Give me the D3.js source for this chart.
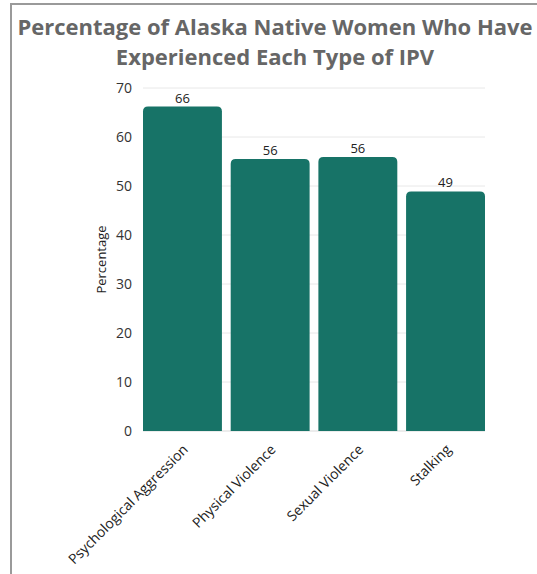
<!DOCTYPE html>
<html>
<head>
<meta charset="utf-8">
<script src="https://cdn.jsdelivr.net/npm/d3@7"></script>
<style>
  html, body { margin: 0; padding: 0; background: #fff; }
  svg { display: block; }
</style>
</head>
<body>
<svg id="chart" width="537" height="574"></svg>
<script>
// IPV types and the share of Alaska Native women who experienced each (%)
const categories = ["Psychological Aggression", "Physical Violence", "Sexual Violence", "Stalking"];
const values = [66.2, 55.5, 55.9, 48.9];
const yTicks = [0, 10, 20, 30, 40, 50, 60, 70];
const titleLines = ["Percentage of Alaska Native Women Who Have", "Experienced Each Type of IPV"];
const yLabel = "Percentage";

const svg = d3.select("#chart");
const W = 537, H = 574;
const margin = { left: 143, right: 52, top: 88, bottom: 143 };

// frame lines along the top and left edges
svg.append("path")
  .attr("d", `M11,${H} L11,4 L${W},4`)
  .attr("fill", "none")
  .attr("stroke", "#9a9a9a")
  .attr("stroke-width", 2);

// title
svg.append("g").selectAll("text")
  .data(titleLines)
  .join("text")
  .attr("x", 275)
  .attr("y", (d, i) => 35 + i * 30)
  .attr("text-anchor", "middle")
  .attr("font-family", "'Open Sans', sans-serif")
  .attr("font-weight", 700)
  .attr("font-size", 22)
  .attr("fill", "#666")
  .text(d => d);

const x = d3.scaleBand()
  .domain(categories)
  .range([margin.left, W - margin.right])
  .paddingInner(0.1)
  .paddingOuter(0);

const y = d3.scaleLinear()
  .domain([0, 70])
  .range([H - margin.bottom, margin.top]);

// gridlines
svg.append("g").selectAll("line")
  .data(yTicks)
  .join("line")
  .attr("x1", margin.left)
  .attr("x2", W - margin.right)
  .attr("y1", d => y(d))
  .attr("y2", d => y(d))
  .attr("stroke", d => d === 0 ? "#d9d9d9" : "#e8e8e8")
  .attr("stroke-width", 1);

// y axis tick labels
const yAxis = d3.axisLeft(y).tickValues(yTicks).tickSize(0).tickPadding(11);
const gy = svg.append("g")
  .attr("transform", `translate(${margin.left},0)`)
  .call(yAxis);
gy.select(".domain").remove();
gy.selectAll("text")
  .attr("font-family", "'Open Sans', sans-serif")
  .attr("font-size", 14)
  .attr("fill", "#333");

// y axis title
svg.append("text")
  .attr("transform", `translate(106,${(y(0) + y(70)) / 2}) rotate(-90)`)
  .attr("text-anchor", "middle")
  .attr("font-family", "'Open Sans', sans-serif")
  .attr("font-size", 13)
  .attr("fill", "#222")
  .text(yLabel);

// bars with rounded top corners
const r = 5;
function barPath(d, i) {
  const x0 = x(categories[i]), x1 = x0 + x.bandwidth();
  const y0 = y(0), y1 = y(d);
  return `M${x0},${y0} L${x0},${y1 + r} Q${x0},${y1} ${x0 + r},${y1} ` +
         `L${x1 - r},${y1} Q${x1},${y1} ${x1},${y1 + r} L${x1},${y0} Z`;
}
svg.append("g").selectAll("path")
  .data(values)
  .join("path")
  .attr("d", (d, i) => barPath(d, i))
  .attr("fill", "#177367");

// value labels
svg.append("g").selectAll("text")
  .data(values)
  .join("text")
  .attr("x", (d, i) => x(categories[i]) + x.bandwidth() / 2)
  .attr("y", d => y(d) - 4)
  .attr("text-anchor", "middle")
  .attr("font-family", "'Open Sans', sans-serif")
  .attr("font-size", 13)
  .attr("fill", "#222")
  .text(d => d3.format(".0f")(d));

// category labels, rotated
const xAxis = d3.axisBottom(x).tickSize(0).tickPadding(0);
const gx = svg.append("g")
  .attr("transform", `translate(0,${y(0)})`)
  .call(xAxis);
gx.select(".domain").remove();
gx.selectAll("text")
  .attr("font-family", "'Open Sans', sans-serif")
  .attr("font-size", 14)
  .attr("fill", "#222")
  .attr("text-anchor", "end")
  .attr("dy", "0.35em")
  .attr("transform", "translate(3,16) rotate(-45)");
</script>
</body>
</html>
